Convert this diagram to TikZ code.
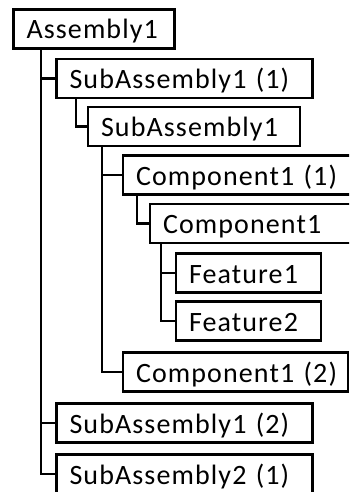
\documentclass[tikz,border=0pt]{standalone}
\usepackage{fontspec}
\setmainfont{Carlito}[LetterSpace=4]
\begin{document}
\begin{tikzpicture}[x=1pt,y=-1pt,
  box/.style={draw, line width=2.2pt, outer sep=0pt, anchor=north west,
    inner xsep=13pt, inner ysep=0pt, minimum height=39pt, align=left,
    text height=20pt, text depth=0pt, font=\fontsize{28}{32}\selectfont},
  conn/.style={line width=2.2pt}]
\useasboundingbox (0,0) rectangle (349,492);
\clip (0,0) rectangle (349,492);

% tree items
\node[box, text width=135pt] (A1)   at (13.5,9.5)  {Assembly1};
\node[box, text width=230pt] (SA11) at (56.5,59)   {SubAssembly1 (1)};
\node[box, text width=186pt] (SA1)  at (88,107)    {SubAssembly1};
\node[box, text width=214pt] (C11)  at (123,155.5) {Component1 (1)};
\node[box, text width=194pt] (C1)   at (150,204)   {Component1};
\node[box, text width=119pt] (F1)   at (176,253.5) {Feature1};
\node[box, text width=119pt] (F2)   at (176,301.5) {Feature2};
\node[box, text width=199pt] (C12)  at (123,352.5) {\mbox{Component1 (2)}};
\node[box, text width=230pt] (SA12) at (56.5,403.5) {SubAssembly1 (2)};
\node[box, text width=230pt] (SA21) at (56.5,454.5) {SubAssembly2 (1)};

% parent-child links
\draw[conn] ([xshift=27.5pt]A1.south west) |- (SA11.west);
\draw[conn] ([xshift=27.5pt]A1.south west) |- (SA12.west);
\draw[conn] ([xshift=27.5pt]A1.south west) |- (SA21.west);
\draw[conn] ([xshift=19.5pt]SA11.south west) |- (SA1.west);
\draw[conn] ([xshift=14pt]SA1.south west) |- (C11.west);
\draw[conn] ([xshift=14pt]SA1.south west) |- (C12.west);
\draw[conn] ([xshift=14pt]C11.south west) |- (C1.west);
\draw[conn] ([xshift=11pt]C1.south west) |- (F1.west);
\draw[conn] ([xshift=11pt]C1.south west) |- (F2.west);
\end{tikzpicture}
\end{document}
